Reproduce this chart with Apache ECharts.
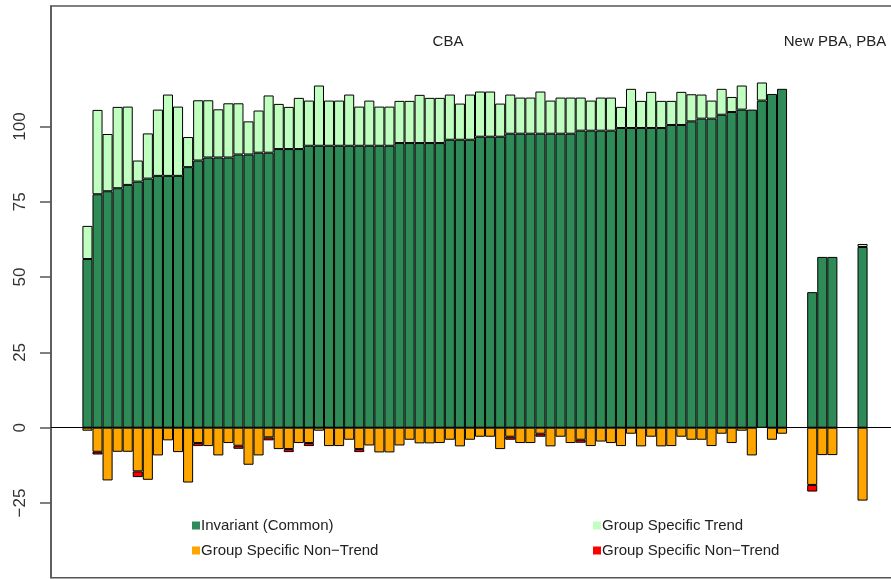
<!DOCTYPE html>
<html>
<head>
<meta charset="utf-8">
<script src="https://cdn.jsdelivr.net/npm/echarts@6/dist/echarts.min.js"></script>
<style>
  html, body { margin: 0; padding: 0; background: #fff; }
  #chart { width: 891px; height: 579px; }
</style>
</head>
<body>
<div id="chart"></div>
<script>
// ---- Data -----------------------------------------------------------------
// CBA groups (70 bars), sorted by the invariant component
const cbaInvariant = [
  56, 77.5, 78.5, 79.5, 80.6, 81.7, 82.7, 83.6, 83.6, 83.6,
  86.5, 88.7, 89.7, 89.7, 89.7, 90.7, 90.7, 91.3, 91.3, 92.5,
  92.5, 92.5, 93.6, 93.6, 93.6, 93.6, 93.6, 93.6, 93.6, 93.6,
  93.6, 94.5, 94.5, 94.5, 94.5, 94.5, 95.6, 95.6, 95.6, 96.6,
  96.6, 96.6, 97.6, 97.6, 97.6, 97.6, 97.6, 97.6, 97.6, 98.6,
  98.6, 98.6, 98.6, 99.5, 99.5, 99.5, 99.5, 99.5, 100.5, 100.5,
  101.7, 102.6, 102.6, 103.9, 104.8, 105.6, 105.6, 108.6, 110.8, 112.5
];
const cbaTrend = [
  11, 28, 19, 27, 26, 7, 15, 22, 27, 23,
  10, 20, 19, 16, 18, 17, 11, 14, 19, 15,
  14, 17, 15, 20, 15, 15, 17, 13, 15, 13,
  13, 14, 14, 16, 15, 15, 15, 12, 15, 15,
  15, 11, 13, 12, 12, 14, 11, 12, 12, 11,
  10, 11, 11, 7, 13, 9, 12, 9, 8, 11,
  9, 8, 6, 8.6, 5, 8, 0, 6, 0, 0
];
const cbaNonTrend = [
  -1, -8, -17.5, -8, -8, -14.5, -17.3, -9.2, -4.2, -8.1,
  -18.2, -5.1, -6.1, -9.2, -5.1, -6, -12.3, -9.2, -3.2, -7.1,
  -7.1, -5.1, -5.1, -1, -6.1, -6.1, -4, -7.1, -5.9, -8.2,
  -8.2, -5.9, -4, -5.2, -5.2, -5.1, -4, -6.2, -4, -3,
  -3, -7.1, -3, -5.1, -5.1, -2, -6.2, -3, -5.1, -4,
  -6.1, -4.6, -5.1, -6.1, -2, -6.2, -3, -6.2, -6.1, -3,
  -4, -4, -6.1, -2, -5.1, -1, -9.2, 0, -4, -2
];
const cbaNonTrendRed = [
  0, -0.9, 0, 0, 0, -1.9, 0, 0, 0, 0,
  0, -1, 0, 0, 0, -1, 0, 0, -1, 0,
  -1, 0, -1, 0, 0, 0, 0, -1, 0, 0,
  0, 0, 0, 0, 0, 0, 0, 0, 0, 0,
  0, 0, -1, 0, 0, -1, 0, 0, 0, -1,
  0, 0, 0, 0, 0, 0, 0, 0, 0, 0,
  0, 0, 0, 0, 0, 0, 0, 0, 0, 0
];

// New PBA groups (3 bars)
const newPbaInvariant = [45, 56.7, 56.7];
const newPbaTrend = [0, 0, 0];
const newPbaNonTrend = [-19, -9.1, -9.1];
const newPbaNonTrendRed = [-2.2, 0, 0];

// PBA group (1 bar)
const pbaInvariant = [60];
const pbaTrend = [1];
const pbaNonTrend = [-24.2];
const pbaNonTrendRed = [0];

// Empty slots separating the blocks
const blockGap = [null, null];

const yTicks = [-25, 0, 25, 50, 75, 100];

const seriesNames = ['Invariant (Common)', 'Group Specific Trend',
                     'Group Specific Non-Trend', 'Group Specific Non-Trend (2)'];
const legendLabels = {
  'Invariant (Common)': 'Invariant (Common)',
  'Group Specific Trend': 'Group Specific Trend',
  'Group Specific Non-Trend': 'Group Specific Non\u2212Trend',
  'Group Specific Non-Trend (2)': 'Group Specific Non\u2212Trend'
};
const colors = ['#2E8B57', '#C1FFC1', '#FFA500', '#FF0000'];

// ---- Build slot sequences ---------------------------------------------------
function joinBlocks(cba, newPba, pba) {
  return [].concat(cba, blockGap, newPba, blockGap, pba);
}
const columns = [
  joinBlocks(cbaInvariant, newPbaInvariant, pbaInvariant),
  joinBlocks(cbaTrend, newPbaTrend, pbaTrend),
  joinBlocks(cbaNonTrend, newPbaNonTrend, pbaNonTrend),
  joinBlocks(cbaNonTrendRed, newPbaNonTrendRed, pbaNonTrendRed)
];
const categories = joinBlocks(
  cbaInvariant.map((_, i) => 'CBA ' + (i + 1)),
  newPbaInvariant.map((_, i) => 'New PBA ' + (i + 1)),
  ['PBA']
).map((c, i) => c === null ? 'gap ' + i : c);
const slotCount = categories.length;

// ---- Layout: outer frame and barplot-style inner band area -------------------
const frame = { left: 51, top: 6, width: 848, height: 571.7 };
const padSlots = slotCount * 0.04;            // 4% extra range either side
const slotPx = frame.width / (slotCount + 2 * padSlots);
const barArea = {
  left: frame.left + padSlots * slotPx,
  top: frame.top,
  width: slotCount * slotPx,
  height: frame.height
};
const yMin = -49.8, yMax = 140;

const font = '"Liberation Sans", Arial, Helvetica, sans-serif';

const series = columns.map((col, k) => ({
  name: seriesNames[k],
  type: 'bar',
  stack: 'total',
  xAxisIndex: 1,
  yAxisIndex: 1,
  barWidth: '100%',
  silent: true,
  data: col.map(v => (v === null || v === 0) ? '-' : v),
  itemStyle: { color: colors[k], borderColor: '#000', borderWidth: 1 }
}));

function legendItem(name, left, top) {
  return {
    data: [name],
    left: left, top: top,
    padding: 0,
    icon: 'rect',
    itemWidth: 8, itemHeight: 8,
    itemGap: 0,
    selectedMode: false,
    itemStyle: { borderWidth: 0 },
    formatter: n => legendLabels[n],
    textStyle: { fontFamily: font, fontSize: 15, color: '#222', padding: [0, 0, 0, -4] }
  };
}

const chart = echarts.init(document.getElementById('chart'), null, { renderer: 'canvas' });
chart.setOption({
  animation: false,
  backgroundColor: '#fff',
  textStyle: { fontFamily: font },
  grid: [
    Object.assign({ show: true, borderColor: '#555', borderWidth: 1.5,
                    containLabel: false, outerBoundsMode: 'none' }, frame),
    Object.assign({ show: false, containLabel: false, outerBoundsMode: 'none' }, barArea)
  ],
  xAxis: [
    {
      gridIndex: 0, type: 'value', min: 0, max: 1,
      axisLine: { show: true, onZero: true, lineStyle: { color: '#000', width: 1 } },
      axisTick: { show: false }, axisLabel: { show: false }, splitLine: { show: false }
    },
    {
      gridIndex: 1, type: 'category', data: categories,
      axisLine: { show: false }, axisTick: { show: false },
      axisLabel: { show: false }, splitLine: { show: false }
    }
  ],
  yAxis: [
    {
      gridIndex: 0, type: 'value', min: yMin, max: yMax,
      axisLine: { show: true, onZero: false, lineStyle: { color: '#555', width: 1.5 } },
      axisTick: { show: true, length: 11, customValues: yTicks, lineStyle: { color: '#555', width: 1.5 } },
      axisLabel: {
        customValues: yTicks,
        rotate: 90,
        margin: 22,
        fontSize: 17,
        color: '#333',
        fontFamily: font,
        formatter: v => String(v).replace('-', '\u2212')
      },
      splitLine: { show: false }
    },
    {
      gridIndex: 1, type: 'value', min: yMin, max: yMax,
      axisLine: { show: false }, axisTick: { show: false },
      axisLabel: { show: false }, splitLine: { show: false }
    }
  ],
  legend: [
    legendItem(seriesNames[0], 192, 518),
    legendItem(seriesNames[1], 593, 518),
    legendItem(seriesNames[2], 192, 543),
    legendItem(seriesNames[3], 593, 543)
  ],
  graphic: [
    { type: 'text', x: 448, y: 42,
      style: { text: 'CBA', font: '15px ' + font, fill: '#222', textAlign: 'center', textVerticalAlign: 'middle' } },
    { type: 'text', x: 835, y: 42,
      style: { text: 'New PBA, PBA', font: '15px ' + font, fill: '#222', textAlign: 'center', textVerticalAlign: 'middle' } }
  ],
  series: series
});
</script>
</body>
</html>
